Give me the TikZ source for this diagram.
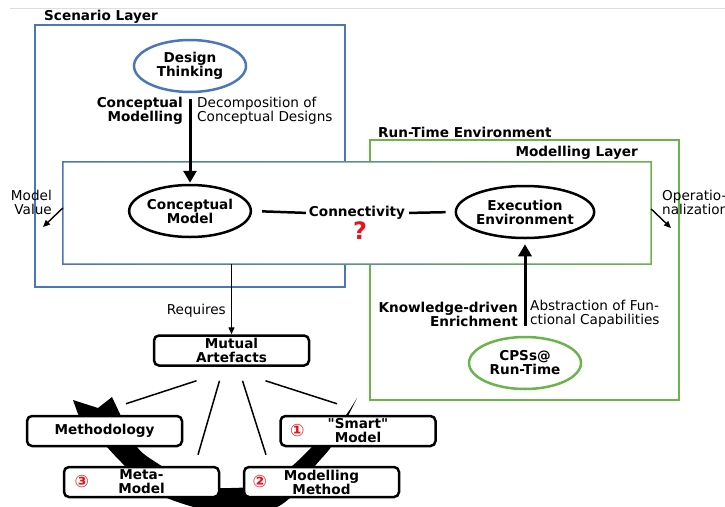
\documentclass[tikz,border=0pt]{standalone}
\usepackage{fontspec}
\setmainfont{DejaVu Sans}
\usetikzlibrary{arrows.meta,shapes.geometric,calc}

\definecolor{layerblue}{RGB}{74,118,186}
\definecolor{layergreen}{RGB}{106,180,76}
\definecolor{marker}{RGB}{232,20,28}
\definecolor{rule}{RGB}{222,222,222}

% straight double quote, set as a glyph so the TeX text mapping leaves it alone
\newcommand\straightdq{\XeTeXglyph\XeTeXcharglyph"0022\relax}

\tikzset{
  layerbox/.style={line width=1.5pt},
  layerlabel/.style={font=\bfseries, inner sep=0pt},
  oval/.style={ellipse, draw, line width=2.5pt, fill=white, minimum width=112pt,
    minimum height=52pt, inner sep=0pt, font=\bfseries, align=center},
  artefact/.style={draw, rounded corners=5pt, line width=2.5pt, fill=white,
    minimum width=155pt, minimum height=30pt, inner sep=0pt, font=\bfseries, align=center},
  note/.style={inner sep=0pt, align=left},
  strong/.style={inner sep=0pt, align=right, font=\bfseries},
  bigarrow/.style={line width=3pt, -{Triangle[width=13pt,length=12pt]}},
  thinarrow/.style={line width=1.4pt, -{Triangle[width=6pt,length=7pt]}},
  link/.style={line width=2.5pt},
  fan/.style={line width=1.5pt},
  num/.style={text=marker, font=\fontsize{17}{17}\selectfont\bfseries, inner sep=0pt},
}

\begin{document}
\fontsize{13.6}{14}\selectfont
\begin{tikzpicture}[x=1pt, y=-1pt]
  \useasboundingbox (0,0) rectangle (725,506);

  % thin rule along the top
  \draw[rule, line width=1pt] (10,8) -- (725,8);

  % outer layers
  \draw[layerbox, layerblue] (35,25) rectangle (345,287);
  \node[layerlabel, anchor=west] at (44,17) {Scenario Layer};
  \draw[layerbox, layergreen] (370,140) rectangle (679,400);
  \node[layerlabel, anchor=west] at (378,132) {Run-Time Environment};
  \node[layerlabel, anchor=east] at (638,153) {Modelling Layer};

  % modelling layer: white panel with a blue-to-green frame
  \node[fill=white, minimum width=588pt, minimum height=102pt, inner sep=0pt] (ml) at (357,213) {};
  \shade[even odd rule, left color=layerblue, right color=layergreen]
    ([shift={(-0.75pt,0.75pt)}]ml.north west) rectangle ([shift={(0.75pt,-0.75pt)}]ml.south east)
    ([shift={(0.75pt,-0.75pt)}]ml.north west) rectangle ([shift={(-0.75pt,0.75pt)}]ml.south east);

  % ovals
  \node[oval, draw=layerblue] (dt) at (190,66) {Design\\Thinking};
  \node[oval] (cm) at (190,211) {Conceptual\\Model};
  \node[oval] (ee) at (525,212) {Execution\\Environment};
  \node[oval, draw=layergreen] (cps) at (525,363) {CPSs@\\Run-Time};

  % conceptual modelling
  \draw[bigarrow, shorten <=6pt, shorten >=1pt] (dt) -- (cm);
  \node[strong, anchor=east] at (183,111) {Conceptual\\Modelling};
  \node[note, anchor=west] at (197,111) {Decomposition of\\Conceptual Designs};

  % knowledge-driven enrichment
  \draw[bigarrow, shorten <=10pt, shorten >=5pt] (cps) -- (ee);
  \node[strong, anchor=east] at (518,314) {Knowledge-driven\\Enrichment};
  \node[note, anchor=west] at (530,314) {Abstraction of Fun-\\ctional Capabilities};

  % connectivity
  \node[inner sep=0pt, font=\bfseries] (conn) at (357,213) {Connectivity};
  \node[text=marker, font=\fontsize{24}{24}\selectfont\bfseries, inner sep=0pt] (qm) at (360,231) {?};
  \draw[link, shorten <=10pt, shorten >=3pt] (cm.east) -- (conn.west);
  \draw[link, shorten <=4pt, shorten >=9pt] (conn.east) -- (ee.west);

  % side outputs
  \coordinate (mv) at (43,227);
  \coordinate (op) at (671,228);
  \draw[thinarrow] ([yshift=5pt]ml.west) -- (mv);
  \draw[thinarrow] ([yshift=4pt]ml.east) -- (op);
  \node[note, align=right, anchor=east] at (52,202) {Model\\Value};
  \node[note, anchor=west] at (662,202) {Operatio-\\nalization};

  % cycle band behind the artefacts
  \fill (73,400) -- (78,414)
    -- plot[smooth] coordinates {(78,414) (107,447) (122,463) (150,490) (190,506)
         (232,514) (275,508) (300,488) (315,466) (331,447) (347,418) (357,398)}
    -- plot[smooth] coordinates {(357,398) (342,420) (312,447) (292,466) (265,484)
         (231,488) (195,485) (157,463) (137,447) (120,414)}
    -- (112,397) -- (98,408) -- cycle;

  % mutual artefacts
  \node[artefact] (ma) at (231.5,350.5) {Mutual\\Artefacts};
  \draw[thinarrow] (ml.south -| ma.north) -- (ma.north);
  \node[note, align=right, anchor=east] at (226,311) {Requires};

  \node[artefact] (meth) at (104.5,431) {Methodology};
  \node[artefact] (smart) at (358,431) {\straightdq Smart\straightdq\\Model};
  \node[artefact] (meta) at (141.5,482) {Meta-\\Model};
  \node[artefact] (mm) at (321.5,482) {Modelling\\Method};
  \node[num] (n1) at ([xshift=18pt]smart.west) {①};
  \node[num] (n3) at ([xshift=19pt]meta.west) {③};
  \node[num] (n2) at ([xshift=17pt]mm.west) {②};

  \draw[fan] ([xshift=-35pt,yshift=-14pt]ma.south) -- ([xshift=21.5pt,yshift=11pt]meth.north);
  \draw[fan] ([xshift=-12pt,yshift=-14pt]ma.south) -- ([xshift=56.5pt,yshift=11pt]meta.north);
  \draw[fan] ([xshift=11pt,yshift=-14pt]ma.south) -- ([xshift=-55.5pt,yshift=11pt]mm.north);
  \draw[fan] ([xshift=34pt,yshift=-14pt]ma.south) -- ([xshift=-21pt,yshift=11pt]smart.north);
\end{tikzpicture}
\end{document}
